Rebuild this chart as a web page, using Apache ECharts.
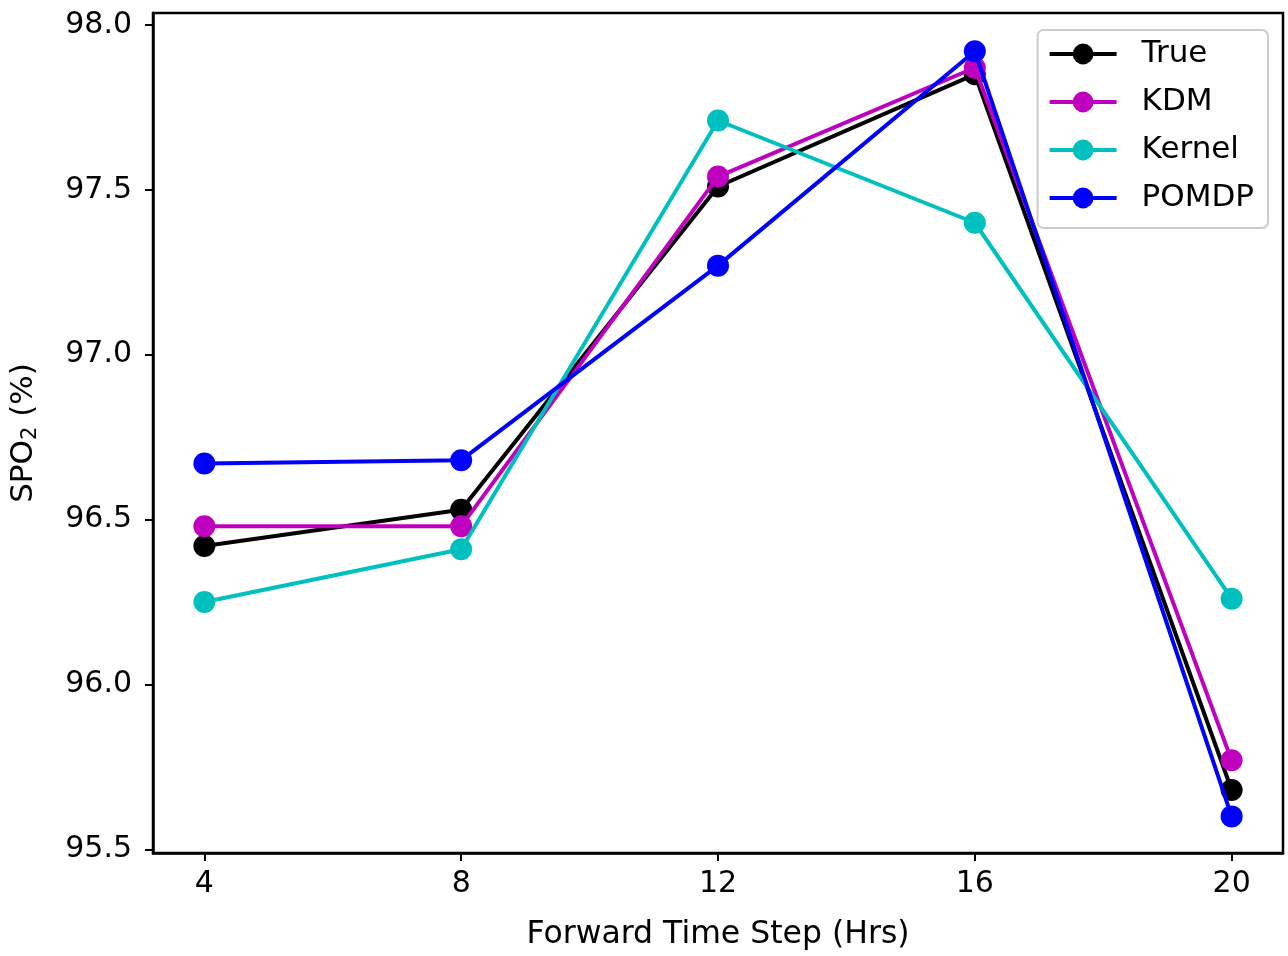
<!DOCTYPE html>
<html>
<head>
<meta charset="utf-8">
<script src="https://cdn.jsdelivr.net/npm/echarts@6/dist/echarts.min.js"></script>
<style>html,body{margin:0;padding:0;background:#fff;}#c{width:1288px;height:956px;}</style>
</head>
<body>
<div id="c"></div>
<script>
const steps = [4, 8, 12, 16, 20];
const trueVals = [96.42, 96.53, 97.51, 97.85, 95.68];
const kdmVals = [96.48, 96.48, 97.54, 97.87, 95.77];
const kernelVals = [96.25, 96.41, 97.71, 97.40, 96.26];
const pomdpVals = [96.67, 96.68, 97.27, 97.92, 95.60];
const yTicks = [95.5, 96.0, 96.5, 97.0, 97.5, 98.0];
const xTicks = [4, 8, 12, 16, 20];
const seriesNames = ['True', 'KDM', 'Kernel', 'POMDP'];
const seriesColors = ['#000000', '#bf00bf', '#00bfbf', '#0000ff'];
const seriesVals = [trueVals, kdmVals, kernelVals, pomdpVals];

const FONT = 'DejaVu Sans';
const chart = echarts.init(document.getElementById('c'), null, {renderer: 'canvas'});
const series = seriesNames.map((n, i) => ({
  name: n,
  type: 'line',
  data: steps.map((s, j) => [s, seriesVals[i][j]]),
  symbol: 'circle',
  symbolSize: 22,
  showSymbol: true,
  lineStyle: {color: seriesColors[i], width: 4},
  itemStyle: {color: seriesColors[i]},
  animation: false,
  z: 2 + i
}));

chart.setOption({
  animation: false,
  backgroundColor: '#fff',
  grid: {left: 153, right: 5, top: 13, bottom: 99, show: true, borderColor: '#000', borderWidth: 2.5, backgroundColor: 'transparent'},
  legend: {
    data: seriesNames,
    orient: 'vertical',
    right: 20,
    top: 30,
    itemWidth: 67,
    itemHeight: 26,
    itemGap: 12,
    padding: [6, 14, 12, 10],
    backgroundColor: 'rgba(255,255,255,0.85)',
    borderColor: '#cccccc',
    borderWidth: 2,
    borderRadius: 6,
    lineStyle: {width: 4},
    textStyle: {fontFamily: FONT, fontSize: 31, color: '#000', lineHeight: 36, padding: [0, 0, 0, 20]}
  },
  xAxis: {
    type: 'value',
    min: 3.2,
    max: 20.8,
    name: 'Forward Time Step (Hrs)',
    nameLocation: 'middle',
    nameGap: 66,
    nameTextStyle: {fontFamily: FONT, fontSize: 31.5, color: '#000'},
    axisLine: {show: true, onZero: false, lineStyle: {color: '#000', width: 2.5}},
    axisTick: {show: true, length: 8, lineStyle: {color: '#000', width: 2}, customValues: xTicks},
    axisLabel: {fontFamily: FONT, fontSize: 30, color: '#000', margin: 16, customValues: xTicks, formatter: v => String(v)},
    splitLine: {show: false}
  },
  yAxis: {
    type: 'value',
    min: 95.489,
    max: 98.036,
    name: '{a|SPO}{b|2}{a| (%)}',
    nameLocation: 'middle',
    nameGap: 112,
    nameRotate: 90,
    nameTextStyle: {
      fontFamily: FONT, fontSize: 31, color: '#000',
      rich: {
        a: {fontFamily: FONT, fontSize: 31, color: '#000'},
        b: {fontFamily: FONT, fontSize: 21, color: '#000', verticalAlign: 'bottom', padding: [13, 0, 0, 0]}
      }
    },
    axisLine: {show: true, onZero: false, lineStyle: {color: '#000', width: 2.5}},
    axisTick: {show: true, length: 8, lineStyle: {color: '#000', width: 2}, customValues: yTicks},
    axisLabel: {fontFamily: FONT, fontSize: 30, color: '#000', margin: 21, customValues: yTicks, formatter: v => v.toFixed(1)},
    splitLine: {show: false}
  },
  series: series
});
</script>
</body>
</html>
